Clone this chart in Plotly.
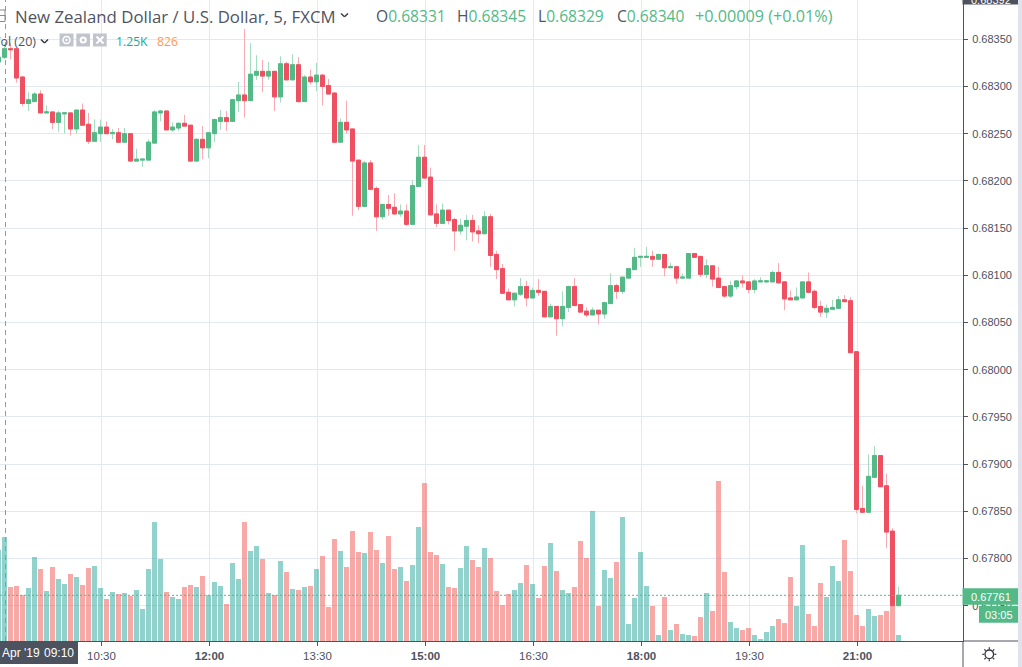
import math
import pandas as pd
import plotly.graph_objects as go

# Prices are given in 0.00001 steps above 0.68000
OPEN_PTS = [326,331,340,340,310,282,284,292,272,273,
262,271,272,255,275,260,242,250,257,250,
251,241,250,221,222,222,240,272,274,254,
256,261,259,221,244,235,250,263,267,263,
285,291,285,312,316,311,316,289,324,307,
323,284,310,305,312,301,293,241,262,255,
222,173,219,192,162,175,172,165,168,154,
194,225,204,165,155,169,159,147,152,158,
147,144,162,122,107,82,74,80,88,76,
84,83,56,67,54,66,88,69,62,58,
63,59,70,89,83,97,106,119,119,120,
117,122,108,109,97,97,123,120,101,110,
97,88,78,88,94,93,85,93,93,93,
103,93,76,74,76,93,83,67,61,64,
65,74,73,19,-147,-151,-114,-91,-123,-171,-250]
HIGH_PTS = [335,345,346,340,311,294,294,296,280,273,
274,273,272,275,282,272,265,265,263,255,
256,256,250,234,223,244,275,275,274,262,
262,270,259,245,258,252,266,275,274,287,
305,361,346,333,328,326,316,332,326,334,
331,312,318,325,313,308,294,266,285,255,
222,221,222,194,176,185,187,175,175,201,
238,238,214,175,176,169,161,160,164,164,
153,168,165,126,112,86,81,97,94,87,
96,83,70,67,83,89,97,69,66,66,
63,72,102,91,98,108,129,120,130,126,
123,122,113,110,102,123,123,120,117,110,
109,89,94,95,100,93,96,98,95,105,
113,94,84,87,93,103,85,73,69,74,
78,79,77,19,-123,-90,-81,-91,-110,-168,-230]
LOW_PTS = [322,329,329,304,279,274,284,272,272,255,
252,250,248,250,259,239,242,241,250,244,
241,241,221,221,215,222,240,263,254,252,
253,258,220,221,223,224,241,254,253,263,
273,267,285,307,294,307,274,283,307,307,
283,284,302,295,280,292,240,241,250,163,
169,173,190,147,159,163,164,162,152,154,
194,202,164,151,154,154,126,143,137,136,
134,144,109,96,81,74,67,78,67,76,
78,55,56,36,46,61,67,61,56,58,
48,54,70,75,80,97,106,109,119,109,
117,99,108,91,97,97,119,98,97,88,
87,76,76,85,87,81,81,93,92,93,
92,63,74,74,76,82,64,56,55,63,
65,72,18,-152,-151,-151,-114,-124,-189,-250,-250]
CLOSE_PTS = [331,340,339,309,282,286,292,272,273,262,
272,272,255,275,259,242,251,257,250,251,
241,250,221,223,223,241,273,274,254,257,
261,258,221,244,235,251,265,267,263,286,
291,285,313,316,311,316,289,324,307,323,
284,310,305,312,300,292,241,262,254,221,
173,219,191,162,175,171,165,168,154,195,
225,203,164,155,169,158,147,153,158,146,
144,162,121,106,81,74,81,88,76,84,
82,56,67,54,67,88,68,61,58,63,
59,71,89,83,98,107,119,120,120,117,
122,108,109,97,98,123,119,101,110,96,
87,78,89,94,92,85,94,94,94,103,
92,75,74,77,93,82,66,61,65,66,
74,72,18,-148,-151,-113,-91,-124,-172,-250,-239]
VOLUME = [1096,1250,652,664,556,640,1012,868,604,892,
748,688,808,772,676,880,904,640,508,592,
568,580,544,616,388,868,1432,988,592,532,
508,652,676,652,784,556,712,664,448,940,
748,1432,1084,1144,988,580,556,964,832,628,
616,652,664,868,1024,412,1228,1084,892,1324,
1072,1060,1312,1096,940,1264,868,892,724,916,
1372,1900,1072,1036,928,652,640,880,1144,976,
892,1120,1000,604,436,568,616,700,916,688,
520,904,1180,844,616,580,652,1204,1000,1564,
424,856,760,952,1492,208,520,1072,664,424,
76,532,136,208,88,76,64,292,580,364,
1924,832,232,160,136,160,76,28,112,184,
268,220,772,424,1156,328,184,700,532,904,
724,1216,844,316,184,388,304,316,364,424,76]

X_TICK_TIMES = ["10:30","12:00","13:30","15:00","16:30","18:00","19:30","21:00"]
X_TICK_TEXT = ["10:30","<b>12:00</b>","13:30","<b>15:00</b>","16:30","<b>18:00</b>","19:30","<b>21:00</b>"]
PRICE_TICKS = [0.6775,0.6780,0.6785,0.6790,0.6795,0.6800,0.6805,0.6810,0.6815,0.6820,0.6825,0.6830,0.6835]
LAST_PRICE = 0.67761
DAY = "2019-04-10 "

def price(pts):
    return [round(0.68 + p / 100000, 5) for p in pts]

times = pd.date_range(DAY + "09:05", periods=len(OPEN_PTS), freq="5min")
o, h, l, c = price(OPEN_PTS), price(HIGH_PTS), price(LOW_PTS), price(CLOSE_PTS)
top = [max(a, b) for a, b in zip(o, c)]
bot = [min(a, b) for a, b in zip(o, c)]

GREEN, RED = "#53b987", "#ef5061"
GREEN_W, RED_W = "#a4dcc0", "#f9a9b1"
VOL_G, VOL_R = "rgba(38,166,154,0.5)", "rgba(239,83,80,0.5)"
GRID, AXIS, TXT = "#e2e9f0", "#50535e", "#4c525e"
W, H, R, B = 1022, 667, 59, 26
PW, PH = W - R, H - B
SEC_PER_PX = 50  # one 5-minute bar takes 6 px
sans = "Liberation Sans"
title_font = "Open Sans"

def X(px): return px / PW
def Y(py): return 1 - py / PH

fig = go.Figure()
fig.add_trace(go.Bar(x=times, y=VOLUME, width=250000, yaxis="y", xaxis="x", name="Vol",
                     marker=dict(color=[VOL_G if b >= a else VOL_R for a, b in zip(o, c)], line_width=0),
                     hoverinfo="skip", showlegend=False))
fig.add_trace(go.Candlestick(x=times, open=o, high=h, low=l, close=c, yaxis="y2", whiskerwidth=0,
                             increasing=dict(line=dict(color=GREEN_W, width=1), fillcolor=GREEN),
                             decreasing=dict(line=dict(color=RED_W, width=1), fillcolor=RED),
                             hoverinfo="skip", showlegend=False))
fig.add_trace(go.Candlestick(x=times, open=o, high=top, low=bot, close=c, yaxis="y2", whiskerwidth=0,
                             increasing=dict(line=dict(color=GREEN, width=1), fillcolor=GREEN),
                             decreasing=dict(line=dict(color=RED, width=1), fillcolor=RED),
                             hoverinfo="skip", showlegend=False))

shapes = []
def rect(x0, y0, x1, y1, color, lw=0, lc=None):
    shapes.append(dict(type="rect", xref="paper", yref="paper", x0=X(x0), x1=X(x1), y0=Y(y0), y1=Y(y1),
                       fillcolor=color, line=dict(width=lw, color=lc or color), layer="above"))
def line(x0, y0, x1, y1, color, lw=1, dash="solid"):
    shapes.append(dict(type="line", xref="paper", yref="paper", x0=X(x0), x1=X(x1), y0=Y(y0), y1=Y(y1),
                       line=dict(color=color, width=lw, dash=dash), layer="above"))
def circle(cx, cy, r, fill, lw=0, lc=None):
    shapes.append(dict(type="circle", xref="paper", yref="paper", x0=X(cx-r), x1=X(cx+r), y0=Y(cy-r), y1=Y(cy+r),
                       fillcolor=fill, line=dict(width=lw, color=lc or fill), layer="above"))

notes = []
def note(x, y, text, size=11, color=TXT, family=sans, anchor="left"):
    notes.append(dict(xref="paper", yref="paper", x=X(x), y=Y(y), text=text, showarrow=False,
                      xanchor=anchor, yanchor="middle", align=anchor, borderpad=0, borderwidth=0,
                      font=dict(size=size, color=color, family=family)))

# crosshair and last-price line
nudge = pd.Timedelta(seconds=SEC_PER_PX)  # the time scale's gridlines sit 1 px right of the bar centres
shapes.append(dict(type="line", xref="x", yref="paper", x0=times[1] + nudge, x1=times[1] + nudge, y0=0, y1=1,
                   line=dict(color="#9598a1", width=1, dash="5px,4px")))
shapes.append(dict(type="line", xref="paper", yref="y2", x0=0, x1=1, y0=LAST_PRICE, y1=LAST_PRICE,
                   line=dict(color=GREEN, width=1, dash="2px,2px"), layer="above"))

# right side furniture
rect(1018, 0, 1022, 667, "#e0e3eb")
line(963, 641, 1018, 641, AXIS)
line(963, 641, 963, 667, AXIS)
rect(962.5, 0, 1018, 4.5, TXT)
rect(962.5, 588.3, 1018, 604.7, GREEN)
rect(979, 606, 1018, 622.7, GREEN)
rect(0, 641.5, 78, 664, TXT)
note(971, 596.7, f"{LAST_PRICE:.5f}", color="white")
note(999, 614.5, "03:05", color="white", anchor="center")
note(1.5, 652.5, "Apr '19", size=12, color="white")
note(44, 652.5, "09:10", size=12, color="white")
note(971, 0, "0.68392", color="white")

# settings icon
circle(989.3, 654.3, 4.3, "white", 1.3, "#33363f")
for k in range(8):
    ang = k * math.pi / 4
    line(989.3 + 5 * math.cos(ang), 654.3 + 5 * math.sin(ang),
         989.3 + 7 * math.cos(ang), 654.3 + 7 * math.sin(ang), "#33363f", 1.2)

# header
note(15, 16, "New Zealand Dollar / U.S. Dollar, 5, FXCM", size=16.8, color="#50535e", family=title_font)
note(-7.5, 41, "Vol (20)", size=12.5, color="#50535e", family=title_font)
for ax, ay, bx, by, cx, cy in [(341, 13.5, 344.5, 16.8, 348, 13.5), (41, 39.5, 44.5, 43, 48, 39.5)]:
    line(ax, ay, bx, by, "#33363f", 1.4)
    line(bx, by, cx, cy, "#33363f", 1.4)
rect(-2, 10, 5, 21.5, "white", 1, "#888b94")
line(0, 15.5, 5, 15.5, "#888b94", 1)
for x0, x1 in [(59.5, 73.5), (76.3, 90), (93, 106.7)]:
    rect(x0, 33.5, x1, 46.5, "#c1c4cd")
circle(66.5, 40, 3.5, "#c1c4cd", 1.5, "white")
circle(66.5, 40, 1.2, "white")
circle(83.2, 40, 3.6, "white")
circle(83.2, 40, 1.5, "#c1c4cd")
line(96.5, 36.5, 103.5, 43.5, "white", 2)
line(103.5, 36.5, 96.5, 43.5, "white", 2)
note(115.5, 41, "1.25K", size=12.2, color="#26a69a", family=title_font)
note(156.5, 41, "826", size=12.2, color="#ff9850", family=title_font)
for x, key, val in [(376, "O", "0.68331"), (457, "H", "0.68345"), (538, "L", "0.68329"), (616.5, "C", "0.68340")]:
    note(x, 16, f'{key}<span style="color:{GREEN}">{val}</span>', size=15.6, color="#50535e", family=title_font)
note(695, 16, "+0.00009 (+0.01%)", size=16.2, color=GREEN, family=title_font)

t1 = times[1]
x_start = t1 - pd.Timedelta(seconds=4.5 * SEC_PER_PX)
x_end = x_start + pd.Timedelta(seconds=PW * SEC_PER_PX)
fig.update_layout(
    width=W, height=H, margin=dict(l=0, r=R, t=0, b=B, pad=0, autoexpand=False),
    paper_bgcolor="white", plot_bgcolor="white", showlegend=False,
    boxgap=1/3, boxgroupgap=0, bargap=0, barmode="overlay", hovermode=False,
    xaxis=dict(type="date", range=[x_start, x_end], rangeslider=dict(visible=False),
               tickmode="array", tickvals=[pd.Timestamp(DAY + t) + nudge for t in X_TICK_TIMES], ticktext=X_TICK_TEXT,
               showgrid=True, gridcolor=GRID, gridwidth=1, zeroline=False,
               showline=True, linecolor=AXIS, linewidth=1,
               ticks="outside", ticklen=4, tickcolor=AXIS, tickangle=0,
               tickfont=dict(family=sans, size=11.5, color=TXT)),
    yaxis=dict(range=[0, 7692], visible=False, showgrid=False, zeroline=False, fixedrange=True),
    yaxis2=dict(overlaying="y", side="right", anchor="x", range=[0.677126, 0.683916],
                tickmode="array", tickvals=PRICE_TICKS, tickformat=".5f",
                showgrid=True, gridcolor=GRID, gridwidth=1, zeroline=False,
                showline=True, linecolor=AXIS, linewidth=1,
                ticks="outside", ticklen=4, tickcolor=AXIS, ticklabelstandoff=2,
                tickfont=dict(family=sans, size=11, color=TXT)),
    shapes=shapes, annotations=notes,
)
fig.write_html("out.html", config=dict(displayModeBar=False),
               post_script="document.body.style.margin='0';document.body.style.overflow='hidden';")
